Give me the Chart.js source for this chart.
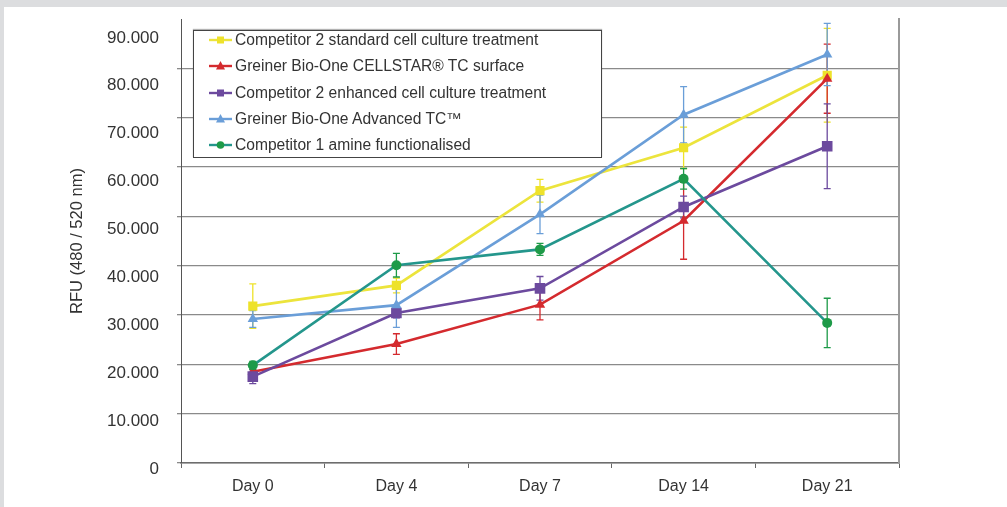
<!DOCTYPE html>
<html>
<head>
<meta charset="utf-8">
<title>RFU over time</title>
<script src="https://cdn.jsdelivr.net/npm/chart.js@4.4.1/dist/chart.umd.min.js"></script>
<style>
    html, body { margin: 0; padding: 0; }
    body {
        width: 1007px; height: 507px; position: relative; overflow: hidden;
        background: #dcdddf;
        font-family: "Liberation Sans", Arial, sans-serif;
    }
    #panel { position: absolute; left: 4px; top: 7px; right: 0; bottom: 0; background: #fff; }
    #wrap { position: absolute; left: 0; top: 0; width: 1007px; height: 507px; }
    #legend {
        position: absolute; left: 193px; top: 30px; width: 407px; height: 126px;
        background: #fff; border: 1.5px solid #444;
        box-shadow: 0 -1px 1px rgba(0, 0, 0, 0.3);
    }
    .row {
        position: absolute; left: 15px; height: 20px;
        display: flex; align-items: center;
        font-size: 15.6px; color: #333; white-space: nowrap;
    }
    .row canvas { margin-right: 3px; }
</style>
</head>
<body>
<div id="panel"></div>
<div id="wrap"><canvas id="grafico"></canvas></div>
<div id="legend"></div>
<script>
// Dados (RFU)
const days = ['Day 0', 'Day 4', 'Day 7', 'Day 14', 'Day 21'];
const seriesNames = [
    'Competitor 2 standard cell culture treatment',
    'Greiner Bio-One CELLSTAR\u00ae TC surface',
    'Competitor 2 enhanced cell culture treatment',
    'Greiner Bio-One Advanced TC\u2122',
    'Competitor 1 amine functionalised'
];
const comp2Standard = [31800, 36000, 55200, 63900, 78600];
const comp2StandardErr = [4500, 1500, 2300, 4200, 9500];
const cellstar = [18500, 24100, 32100, 49100, 77900];
const cellstarErr = [1000, 2100, 3100, 7800, 7000];
const comp2Enhanced = [17500, 30400, 35400, 51900, 64200];
const comp2EnhancedErr = [1400, 1000, 2400, 2200, 8600];
const advancedTC = [29200, 32000, 50400, 70600, 82800];
const advancedTCErr = [1700, 4500, 3900, 5700, 6300];
const comp1Amine = [19800, 40100, 43300, 57600, 28400];
const comp1AmineErr = [800, 2400, 1200, 2100, 5000];
const yTicks = [0, 10000, 20000, 30000, 40000, 50000, 60000, 70000, 80000, 90000];

// Formato com ponto como separador de milhar
function fmt(v) {
    return v === 0 ? '0' : Math.round(v / 1000) + '.000';
}

// Plugin simples para as barras de erro
const errorBars = {
    id: 'errorBars',
    beforeDatasetsDraw(chart) {
        const ctx = chart.ctx;
        const y = chart.scales.y;
        chart.data.datasets.forEach((ds, i) => {
            const meta = chart.getDatasetMeta(i);
            ctx.save();
            ctx.strokeStyle = ds.errorColor;
            ctx.lineWidth = 1.3;
            meta.data.forEach((pt, j) => {
                const e = ds.errors[j];
                const top = y.getPixelForValue(ds.data[j] + e);
                const bot = y.getPixelForValue(ds.data[j] - e);
                ctx.beginPath();
                ctx.moveTo(pt.x, top); ctx.lineTo(pt.x, bot);
                ctx.moveTo(pt.x - 3.5, top); ctx.lineTo(pt.x + 3.5, top);
                ctx.moveTo(pt.x - 3.5, bot); ctx.lineTo(pt.x + 3.5, bot);
                ctx.stroke();
            });
            ctx.restore();
        });
    }
};

function serie(label, data, errors, color, markerColor, style, radius, order) {
    return {
        label: label, data: data, errors: errors, errorColor: markerColor,
        borderColor: color, backgroundColor: markerColor,
        pointBackgroundColor: markerColor, pointBorderColor: markerColor,
        pointStyle: style, pointRadius: radius, pointBorderWidth: 0,
        borderWidth: 2.6, tension: 0, order: order
    };
}

// sem padding extra dos eixos: a área do gráfico fica onde o layout manda
function noPad(s) {
    s.paddingTop = 0; s.paddingBottom = 0; s.paddingLeft = 0; s.paddingRight = 0;
}

Chart.defaults.font.family = '"Liberation Sans", Arial, sans-serif';
Chart.defaults.color = '#333';

const datasets = [
    serie(seriesNames[0], comp2Standard, comp2StandardErr, '#ece43c', '#eee22a', 'rect', 6.5, 5),
    serie(seriesNames[1], cellstar, cellstarErr, '#d42a2e', '#d42a2e', 'triangle', 6, 4),
    serie(seriesNames[2], comp2Enhanced, comp2EnhancedErr, '#6c4a9e', '#6c4a9e', 'rect', 7.5, 3),
    serie(seriesNames[3], advancedTC, advancedTCErr, '#6a9ed8', '#6a9ed8', 'triangle', 6, 2),
    serie(seriesNames[4], comp1Amine, comp1AmineErr, '#24968c', '#1e9a48', 'circle', 5, 1)
];

const ctx = document.getElementById('grafico').getContext('2d');
const grafico = new Chart(ctx, {
    type: 'line',
    data: { labels: days, datasets: datasets },
    plugins: [errorBars],
    options: {
        responsive: true,
        maintainAspectRatio: false,
        animation: false,
        layout: { padding: { left: 64, right: 108, top: 19, bottom: 0 } },
        plugins: { legend: { display: false }, tooltip: { enabled: false } },
        scales: {
            x: {
                offset: true,
                grid: { display: true, drawOnChartArea: false, drawTicks: true, tickLength: 5, offset: true, color: '#666' },
                border: { color: '#6d6d6d', width: 1.5 },
                ticks: { font: { size: 16 }, padding: 9, color: '#333' },
                afterFit(s) { s.height = 44; noPad(s); }
            },
            y: {
                min: 0, max: 90000,
                weight: 0,
                ticks: { display: false, stepSize: 10000 },
                grid: {
                    tickLength: 4,
                    lineWidth: 1.3,
                    color: (c) => (c.tick && c.tick.value === 90000) ? 'rgba(0,0,0,0)' : '#8a8a8a'
                },
                border: { color: '#555', width: 1 },
                afterFit(s) { s.width = 4; noPad(s); }
            },
            // eixo só para os rótulos (no original estão um pouco deslocados das linhas)
            yLabels: {
                position: 'left',
                weight: 1,
                min: 1253, max: 93946,
                grid: { display: false, drawTicks: false },
                border: { display: false },
                ticks: { autoSkip: false, padding: 18, font: { size: 17 }, color: '#333', callback: (v) => fmt(v) },
                afterBuildTicks(s) { s.ticks = yTicks.map(v => ({ value: v })); },
                title: { display: true, text: 'RFU (480 / 520 nm)', font: { size: 16.5 }, color: '#333' },
                afterFit(s) { s.width = 113; noPad(s); }
            },
            yRight: {
                position: 'right',
                min: 0, max: 90000,
                ticks: { display: false },
                grid: { display: false },
                border: { display: true, color: '#9a9a9a', width: 2 },
                afterFit(s) { s.width = 0; noPad(s); }
            }
        }
    }
});

// Legenda em HTML, montada a partir dos datasets
const legend = document.getElementById('legend');
datasets.forEach((ds, i) => {
    const row = document.createElement('div');
    row.className = 'row';
    row.style.top = (i * 26.3 - 1) + 'px';
    const c = document.createElement('canvas');
    c.width = 23; c.height = 12;
    const g = c.getContext('2d');
    g.strokeStyle = ds.borderColor;
    g.lineWidth = 2.4;
    g.beginPath(); g.moveTo(0, 6); g.lineTo(23, 6); g.stroke();
    g.fillStyle = ds.pointBackgroundColor;
    if (ds.pointStyle === 'rect') {
        g.fillRect(8, 2.5, 7, 7);
    } else if (ds.pointStyle === 'triangle') {
        g.beginPath(); g.moveTo(11.5, 1); g.lineTo(16, 9.5); g.lineTo(7, 9.5); g.closePath(); g.fill();
    } else {
        g.beginPath(); g.arc(11.5, 6, 3.8, 0, Math.PI * 2); g.fill();
    }
    const span = document.createElement('span');
    span.textContent = ds.label;
    row.appendChild(c);
    row.appendChild(span);
    legend.appendChild(row);
});
</script>
</body>
</html>
